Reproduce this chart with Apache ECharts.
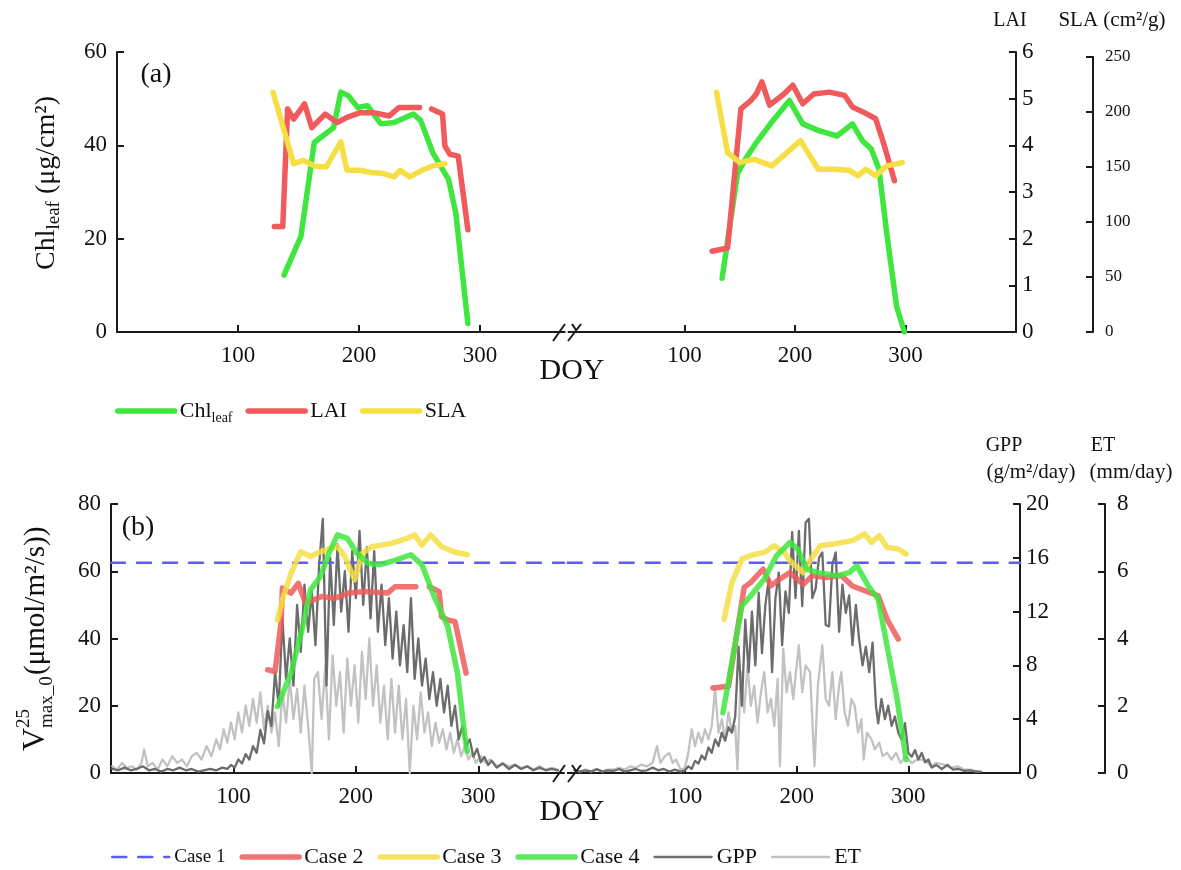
<!DOCTYPE html>
<html><head><meta charset="utf-8">
<script src="https://cdn.jsdelivr.net/npm/echarts@6/dist/echarts.min.js"></script>
<style>html,body{margin:0;padding:0;background:#fff}#c{width:1181px;height:870px}</style>
</head><body><div id="c"></div>
<script>
// ---------------- DATA ([DOY, value]) ----------------
const xTickLabels = [100, 200, 300];
// panel (a) year 1
const chlY1 = [[138,12.2],[152,20.5],[163,40.6],[174,42.8],[179,43.8],[185,51.4],[191,50.7],[199,48.1],[207,48.5],[218,44.6],[229,44.9],[245,46.7],[251,45.3],[261,38.4],[274,32.7],[280,25.5],[290,1.8]];
const laiY1 = [[130,2.26],[137,2.26],[141,4.78],[146,4.56],[155,4.89],[161,4.38],[172,4.67],[182,4.49],[190,4.6],[201,4.7],[212,4.7],[225,4.63],[233,4.81],[250,4.81],[255,null],[260,4.78],[269,4.67],[271,3.99],[275,3.81],[282,3.77],[290,2.19]];
const slaY1 = [[129,218],[146,153],[154,156],[163,151],[173,150],[185,173],[190,147],[201,147],[210,145],[220,144],[229,141],[234,147],[242,141],[252,147],[261,151],[271,153]];
// panel (a) year 2
const chlY2 = [[134,11.5],[148,34],[155,37],[165,40.6],[179,45],[195,49.6],[207,44.6],[221,43.2],[238,42],[252,44.6],[261,41],[269,39.2],[276,34.9],[283,21.2],[292,5.4],[299,0]];
const laiY2 = [[125,1.73],[139,1.8],[151,4.78],[160,4.96],[165,5.1],[170,5.36],[177,4.86],[190,5.1],[198,5.29],[207,4.89],[217,5.1],[231,5.14],[245,5.07],[252,4.82],[262,4.71],[273,4.57],[280,4.06],[290,3.24]];
const slaY2 = [[129,218],[139,163],[150,154],[163,157],[179,151],[205,174],[221,148],[236,148],[249,147],[257,142],[264,148],[273,142],[283,151],[297,154]];
// panel (b)
const case1Value = 62.5;
const case2Y1 = [[128,30.7],[134,30.2],[139,45],[140,55],[147,53.5],[153,56.4],[159,50.5],[172,52.5],[183,52],[194,53.5],[207,54],[226,53.5],[232,55.4],[249,55.4],[255,null],[260,55.4],[268,54],[270,46.5],[275,45.5],[281,45],[290,29.7]];
const case3Y1 = [[136,45.5],[140,51.5],[147,59.4],[155,65.8],[163,64.4],[171,65.8],[185,67.3],[191,64.4],[199,57.4],[205,65.3],[213,67.3],[229,68.3],[242,69.8],[248,70.8],[254,67.8],[261,70.8],[270,67.3],[280,65.8],[291,64.9]];
const case4Y1 = [[136,19.8],[147,29.7],[156,42.6],[163,54.5],[171,58.4],[178,65.3],[185,70.8],[193,69.8],[201,65.3],[210,62.4],[219,61.9],[229,62.9],[245,64.9],[254,61.9],[264,52.5],[275,43.6],[283,29.7],[289,10.9],[291,6.4]];
const case2Y2 = [[125,25.3],[139,25.8],[153,55.2],[159,56.7],[170,60.6],[177,55.7],[185,57.7],[194,59.6],[206,56.1],[214,58.7],[226,58.1],[240,58.7],[250,55.6],[261,54.2],[273,52.7],[281,45.7],[291,39.8]];
const case3Y2 = [[135,45.7],[142,56.6],[151,63.6],[158,64.6],[171,65.6],[180,67.6],[189,65.6],[194,63.1],[206,59.6],[213,63.6],[221,67.6],[233,68.1],[250,69.1],[261,71.1],[267,68.6],[274,70.6],[281,67.1],[291,66.6],[298,65.1]];
const case4Y2 = [[134,17.9],[151,49.7],[159,52.7],[171,57.7],[182,64.6],[194,68.6],[201,66.6],[209,60.6],[219,59.6],[237,58.7],[247,59.6],[254,61.6],[264,55.7],[273,51.7],[281,37.8],[290,21.9],[298,4.0]];
const gppY1 = [[1,0.3],[6,0.2],[11,0.4],[16,0.2],[21,0.3],[26,0.5],[31,0.2],[36,0.3],[41,0.1],[46,0.3],[51,0.2],[56,0.4],[61,0.2],[66,0.3],[71,0.1],[76,0.2],[81,0.3],[86,0.2],[91,0.4],[95,0.3],[98,0.6],[101,0.4],[104,1.0],[107,0.7],[110,1.4],[113,1.0],[116,2.0],[119,1.5],[122,3.2],[125,2.2],[128,4.6],[131,3.5],[134,7.5],[137,5.0],[140,11.5],[143,7.0],[146,10.0],[149,6.5],[152,12.5],[155,9.0],[158,14.0],[161,10.5],[164,13.5],[167,9.5],[170,15.5],[173,18.9],[176,6.5],[179,16.0],[182,11.0],[185,17.0],[188,12.0],[191,15.0],[194,10.5],[197,16.5],[200,13.0],[203,18.0],[206,12.5],[209,16.8],[212,11.5],[215,16.5],[218,10.5],[221,14.0],[224,9.5],[227,13.0],[230,8.5],[233,12.0],[236,8.0],[239,11.0],[242,7.5],[245,13.0],[248,7.0],[251,10.0],[254,6.5],[257,8.5],[260,5.5],[263,7.5],[266,5.0],[269,7.0],[272,4.5],[275,6.5],[278,3.5],[281,5.0],[284,2.5],[287,3.5],[290,2.0],[293,2.5],[296,1.2],[299,1.8],[302,0.8],[305,1.2],[308,0.6],[311,0.9],[315,0.4],[320,0.7],[325,0.3],[330,0.6],[335,0.3],[340,0.5],[345,0.2],[350,0.4],[355,0.2],[360,0.3],[365,0.2]];
const etY1 = [[1,0.2],[5,0.1],[9,0.3],[13,0.15],[17,0.2],[21,0.1],[25,0.3],[27,0.7],[30,0.2],[34,0.3],[38,0.1],[42,0.4],[46,0.2],[50,0.5],[54,0.3],[58,0.4],[62,0.2],[66,0.5],[70,0.6],[74,0.4],[78,0.8],[82,0.5],[86,1.0],[89,0.7],[92,1.3],[95,0.9],[98,1.5],[101,1.0],[104,1.8],[107,1.2],[110,2.0],[113,1.4],[116,2.2],[119,1.5],[122,2.4],[125,1.3],[128,2.0],[131,1.2],[134,1.8],[137,0.8],[140,2.4],[143,1.5],[146,2.8],[149,1.6],[152,2.5],[155,1.2],[158,2.6],[161,1.4],[164,0.0],[166,2.8],[169,3.0],[172,1.6],[175,3.2],[178,1.0],[181,3.5],[184,2.0],[187,3.0],[190,1.2],[193,3.4],[196,2.0],[199,3.2],[202,1.5],[205,3.6],[208,2.2],[211,4.0],[214,2.0],[217,3.2],[220,1.5],[223,2.6],[226,1.0],[229,2.8],[232,1.2],[235,2.6],[238,1.0],[241,2.2],[244,0.0],[247,2.0],[250,1.0],[253,2.4],[256,1.2],[259,1.8],[262,0.8],[265,1.5],[268,0.9],[271,1.3],[274,0.7],[277,1.2],[280,0.6],[283,1.0],[286,0.5],[289,0.8],[292,0.4],[295,0.6],[298,0.3],[302,0.5],[306,0.3],[310,0.4],[315,0.2],[320,0.3],[325,0.2],[330,0.25],[335,0.15],[340,0.2],[345,0.1],[350,0.2],[355,0.1],[360,0.15],[365,0.1]];
const gppY2 = [[1,0.2],[6,0.1],[11,0.2],[16,0.1],[21,0.3],[26,0.1],[31,0.2],[36,0.15],[41,0.3],[46,0.1],[51,0.2],[56,0.3],[61,0.15],[66,0.2],[71,0.4],[76,0.2],[81,0.3],[86,0.1],[91,0.25],[96,0.1],[100,0.2],[103,0.5],[106,0.3],[109,0.9],[112,0.7],[115,1.3],[118,1.0],[121,1.9],[124,1.5],[127,2.5],[130,2.0],[133,3.0],[136,2.4],[139,3.4],[142,3.0],[145,4.2],[148,9.4],[151,5.0],[154,11.4],[157,7.5],[160,12.0],[163,8.0],[166,13.4],[169,8.9],[172,12.5],[175,14.4],[178,7.5],[181,13.0],[184,14.9],[187,9.5],[190,13.5],[193,11.9],[196,17.9],[199,13.0],[202,18.0],[205,12.4],[208,18.6],[211,18.9],[214,13.0],[217,13.7],[220,16.0],[223,16.4],[226,11.0],[229,10.9],[232,15.5],[235,16.4],[238,10.5],[241,14.0],[244,11.9],[247,13.2],[250,9.5],[253,12.5],[256,9.9],[259,8.0],[262,9.4],[265,7.5],[268,9.7],[271,5.0],[273,3.7],[276,5.5],[279,4.0],[282,5.0],[285,3.5],[288,4.2],[291,3.0],[294,2.5],[297,3.7],[300,1.5],[303,1.2],[306,1.7],[309,1.0],[312,1.5],[315,0.8],[318,1.0],[321,0.4],[325,0.6],[330,0.3],[335,0.6],[340,0.25],[345,0.3],[350,0.15],[355,0.2],[360,0.1],[365,0.1]];
const etY2 = [[1,0.1],[6,0.05],[11,0.1],[16,0.05],[21,0.1],[26,0.05],[31,0.1],[36,0.1],[41,0.15],[46,0.1],[51,0.2],[56,0.15],[61,0.25],[66,0.2],[71,0.3],[75,0.8],[78,0.3],[82,0.5],[86,0.6],[89,0.3],[92,0.4],[96,0.1],[100,0.15],[103,0.6],[106,1.3],[109,0.8],[112,1.2],[115,0.9],[118,1.3],[121,1.0],[124,1.4],[127,2.5],[130,1.2],[133,1.6],[136,1.0],[139,1.8],[142,1.2],[145,1.4],[147,0.1],[150,3.0],[153,1.8],[156,3.2],[159,2.0],[162,2.6],[165,1.5],[168,2.4],[171,3.0],[174,1.8],[177,2.2],[180,1.4],[183,2.8],[185,0.2],[188,3.7],[191,2.4],[194,3.0],[197,2.2],[200,3.2],[202,3.8],[205,2.4],[208,3.2],[212,3.0],[216,0.2],[219,2.6],[223,3.8],[226,2.2],[229,2.0],[232,3.0],[235,1.6],[238,2.6],[240,3.0],[243,1.8],[246,1.4],[249,2.2],[252,2.0],[255,1.2],[258,1.6],[260,0.4],[263,1.2],[267,1.0],[270,0.7],[274,0.9],[277,0.5],[281,0.6],[285,0.4],[289,0.6],[293,0.3],[298,0.5],[303,0.3],[308,0.4],[315,0.4],[320,0.2],[325,0.3],[332,0.25],[338,0.15],[344,0.2],[350,0.1],[356,0.1],[362,0.05]];

// ---------------- STYLE ----------------
const FONT = '"Liberation Serif", "Times New Roman", serif';
const INK = '#1a1a1a';
const GREEN = '#3fe63f', RED = '#f05a5a', YELLOW = '#f5df45', BLUE = '#5c5cf0', GPPC = '#6c6c6c', ETC = '#c2c2c2';
const Y1 = [0, 370], Y2 = [-5, 400];
const LW = 5.5;

function xVis(grid, r) {
  return {type:'value', gridIndex:grid, min:r[0], max:r[1], position:'bottom',
    axisLine:{show:true, onZero:false, lineStyle:{color:INK, width:2}},
    axisTick:{show:true, inside:true, length:7, customValues:xTickLabels, lineStyle:{color:INK, width:2}},
    axisLabel:{show:true, customValues:xTickLabels, margin:12, fontFamily:FONT, fontSize:23, color:'#111'},
    splitLine:{show:false}};
}
function hid(grid, min, max) {
  return {type:'value', gridIndex:grid, min, max, show:false, splitLine:{show:false}};
}
function yVis(grid, min, max, interval, pos, offset, fs, margin) {
  return {type:'value', gridIndex:grid, min, max, interval, position:pos, offset:offset||0,
    axisLine:{show:true, onZero:false, lineStyle:{color:INK, width:2}},
    axisTick:{show:true, inside:true, length:7, lineStyle:{color:INK, width:2}},
    axisLabel:{show:true, margin:margin, fontFamily:FONT, fontSize:fs, color:'#111'},
    splitLine:{show:false}};
}
function line(name, data, xi, yi, color, width, opacity, dash) {
  return {name, type:'line', data, xAxisIndex:xi, yAxisIndex:yi, symbol:'none', animation:false,
    lineStyle:{color, width, cap:'round', join:'round', opacity:opacity==null?1:opacity, type:dash||'solid'},
    itemStyle:{color}};
}
function brk(x, y) {
  return [
    {type:'line', shape:{x1:x-13, y1:y+9, x2:x-1, y2:y-8}, style:{stroke:INK, lineWidth:2}, z:100},
    {type:'line', shape:{x1:x+2, y1:y+9, x2:x+15, y2:y-8}, style:{stroke:INK, lineWidth:2}, z:100},
    {type:'line', shape:{x1:x+10, y1:y-2, x2:x+6, y2:y-8}, style:{stroke:INK, lineWidth:2}, z:100}
  ];
}
function txt(x, y, text, size) {
  return {type:'text', x, y, z:100, style:{text, fill:'#111', font:size+'px '+FONT, align:'center', verticalAlign:'middle'}};
}
const legendBase = {itemWidth:57, itemHeight:14, itemStyle:{opacity:0}, lineStyle:{width:'inherit'}};

const chart = echarts.init(document.getElementById('c'), null, {renderer:'canvas'});
const option = {
  animation:false,
  backgroundColor:'#fff',
  grid:[
    {left:117, top:52, width:447.7, height:280},
    {left:568.5, top:52, width:447.5, height:280},
    {left:117, top:57, width:447.7, height:275},
    {left:568.5, top:57, width:447.5, height:275},
    {left:111, top:504, width:453, height:269},
    {left:567.7, top:504, width:452.3, height:269}
  ],
  xAxis:[ xVis(0, Y1), xVis(1, Y2), hid(2,Y1[0],Y1[1]), hid(3,Y2[0],Y2[1]), xVis(4, Y1), xVis(5, Y2) ],
  yAxis:[
    yVis(0, 0, 60, 20, 'left', 0, 23, 10),   //0 Chl
    hid(0, 0, 6),                             //1 LAI y1
    hid(1, 0, 60),                            //2 Chl y2
    yVis(1, 0, 6, 1, 'right', 0, 23, 6),      //3 LAI
    hid(2, 0, 250),                           //4 SLA y1
    yVis(3, 0, 250, 50, 'right', 77, 17, 12), //5 SLA
    yVis(4, 0, 80, 20, 'left', 0, 23, 10),    //6 Vmax
    hid(4, 0, 20),                            //7 GPP y1
    hid(4, 0, 8),                             //8 ET y1
    hid(5, 0, 80),                            //9 Vmax y2
    yVis(5, 0, 20, 4, 'right', 0, 23, 6),     //10 GPP
    yVis(5, 0, 8, 2, 'right', 85, 23, 12)     //11 ET
  ],
  legend:[
    Object.assign({}, legendBase, {data:['Chl','LAI','SLA'], left:110, top:395, itemGap:13,
      textStyle:{fontFamily:FONT, fontSize:22, color:'#111',
        rich:{m:{fontFamily:FONT, fontSize:22, color:'#111', lineHeight:28}, s:{fontFamily:FONT, fontSize:14, color:'#111', lineHeight:14, verticalAlign:'bottom'}}},
      formatter:n => n === 'Chl' ? '{m|Chl}{s|leaf}' : n}),
    Object.assign({}, legendBase, {data:[{name:'Case 1', textStyle:{fontSize:19}},'Case 2','Case 3','Case 4','GPP','ET'], left:106, top:841, itemGap:14,
      textStyle:{fontFamily:FONT, fontSize:22, color:'#111'}})
  ],
  series:[
    line('Chl', chlY1, 0, 0, GREEN, LW),
    line('LAI', laiY1, 0, 1, RED, LW),
    line('SLA', slaY1, 2, 4, YELLOW, LW),
    line('Chl', chlY2, 1, 2, GREEN, LW),
    line('LAI', laiY2, 1, 3, RED, LW),
    line('SLA', slaY2, 3, 5, YELLOW, LW),
    line('ET', etY1, 4, 8, ETC, 2.3),
    line('GPP', gppY1, 4, 7, GPPC, 2.3),
    line('ET', etY2, 5, 11, ETC, 2.3),
    line('GPP', gppY2, 5, 10, GPPC, 2.3),
    line('Case 1', [[Y1[0],case1Value],[Y1[1],case1Value]], 4, 6, BLUE, 2.5, 1, [14,12]),
    line('Case 1', [[Y2[0],case1Value],[Y2[1],case1Value]], 5, 9, BLUE, 2.5, 1, [14,12]),
    line('Case 2', case2Y1, 4, 6, RED, LW, 0.85),
    line('Case 3', case3Y1, 4, 6, YELLOW, LW, 0.85),
    line('Case 4', case4Y1, 4, 6, GREEN, LW, 0.85),
    line('Case 2', case2Y2, 5, 9, RED, LW, 0.85),
    line('Case 3', case3Y2, 5, 9, YELLOW, LW, 0.85),
    line('Case 4', case4Y2, 5, 9, GREEN, LW, 0.85)
  ],
  graphic:[
    ...brk(566, 332), ...brk(566, 773),
    txt(156, 75, '(a)', 28),
    txt(138, 528, '(b)', 28),
    txt(572, 371, 'DOY', 30),
    txt(572, 812, 'DOY', 30),
    txt(1010, 21, 'LAI', 20),
    txt(1112, 20, 'SLA (cm²/g)', 21),
    txt(1004, 446, 'GPP', 20),
    txt(1031, 472, '(g/m²/day)', 21),
    txt(1103, 446, 'ET', 20),
    txt(1131, 472, '(mm/day)', 21),
    {type:'group', x:47, y:183, rotation:Math.PI/2, z:100, children:[
      {type:'text', x:0, y:0, style:{text:'{m|Chl}{s|leaf}{m| (μg/cm²)}', fill:'#111', align:'center', verticalAlign:'middle',
        rich:{m:{font:'28px '+FONT, fill:'#111', lineHeight:34}, s:{font:'19px '+FONT, fill:'#111', lineHeight:18, verticalAlign:'bottom'}}}}
    ]},
    {type:'group', x:36, y:639, rotation:Math.PI/2, z:100, children:[
      {type:'text', x:-112, y:0, style:{text:'V', fill:'#111', font:'32px '+FONT, align:'left', verticalAlign:'middle'}},
      {type:'text', x:-89, y:-12, style:{text:'25', fill:'#111', font:'19px '+FONT, align:'left', verticalAlign:'middle'}},
      {type:'text', x:-89, y:11, style:{text:'max_0', fill:'#111', font:'19px '+FONT, align:'left', verticalAlign:'middle'}},
      {type:'text', x:-36, y:0, style:{text:'(μmol/m²/s))', fill:'#111', font:'29px '+FONT, align:'left', verticalAlign:'middle'}}
    ]}
  ]
};
chart.setOption(option);
</script></body></html>
